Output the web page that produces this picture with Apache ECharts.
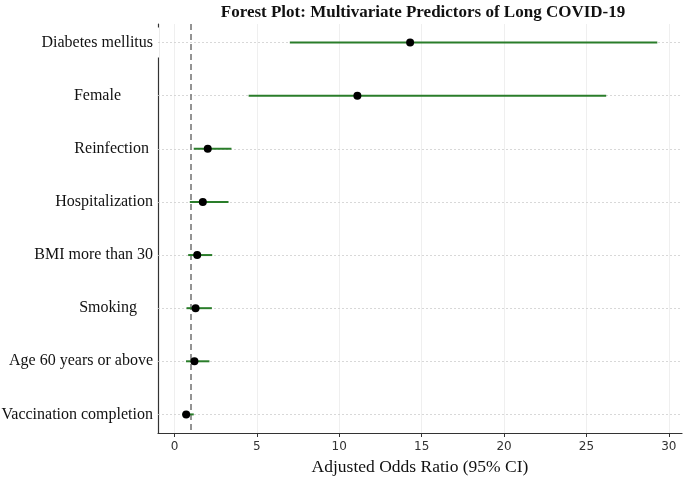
<!DOCTYPE html>
<html>
<head>
<meta charset="utf-8">
<script src="https://cdn.jsdelivr.net/npm/echarts@6/dist/echarts.min.js"></script>
<style>html,body{margin:0;padding:0;background:#fff}#c{width:685px;height:478px}</style>
</head>
<body>
<div id="c"></div>
<script>
const categories = ['Diabetes mellitus', 'Female        ', 'Reinfection ', 'Hospitalization', 'BMI more than 30', 'Smoking    ', 'Age 60 years or above', 'Vaccination completion'];
const oddsRatio = [14.3, 11.1, 2.02, 1.72, 1.38, 1.28, 1.21, 0.71];
const ciLow = [7.0, 4.5, 1.17, 0.93, 0.83, 0.73, 0.70, 0.47];
const ciHigh = [29.3, 26.2, 3.46, 3.28, 2.29, 2.27, 2.12, 1.17];
const xTicks = [0, 5, 10, 15, 20, 25, 30];
const refLine = 1;

const idx = categories.map((_, i) => i);
const chart = echarts.init(document.getElementById('c'));
const serif = 'Liberation Serif';
chart.setOption({
  animation: false,
  backgroundColor: '#fff',
  title: {
    text: 'Forest Plot: Multivariate Predictors of Long COVID-19',
    left: 418, top: -1, textAlign: 'center',
    textStyle: { fontFamily: serif, fontWeight: 'bold', fontSize: 17, color: '#111' }
  },
  grid: { left: 158, right: 3, top: 24, bottom: 45, outerBoundsMode: 'none', containLabel: false },
  xAxis: {
    type: 'value', min: -1.0, max: 30.8,
    axisLine: { show: true, onZero: false, lineStyle: { color: '#333', width: 1.2 } },
    axisTick: { show: true, length: 4, lineStyle: { color: '#333' }, customValues: xTicks },
    axisLabel: { customValues: xTicks, fontFamily: 'DejaVu Sans', fontSize: 12, color: '#333', margin: 8 },
    splitLine: { show: false },
    name: 'Adjusted Odds Ratio (95% CI)', nameLocation: 'middle', nameGap: 25,
    nameTextStyle: { fontFamily: serif, fontSize: 17.5, color: '#111' }
  },
  yAxis: {
    type: 'value', inverse: true, min: -0.35, max: 7.35,
    axisLine: { show: true, onZero: false, lineStyle: { color: '#333', width: 1.2 } },
    axisTick: { show: false, customValues: idx },
    splitLine: { show: false },
    axisLabel: {
      customValues: idx, margin: -1,
      formatter: v => (v === 0 ? '{d|' : '{n|') + categories[v] + '}',
      rich: {
        d: { fontFamily: serif, fontSize: 16, color: '#111', backgroundColor: '#fff', padding: [7, 6, 7, 0] },
        n: { fontFamily: serif, fontSize: 16, color: '#111', padding: [0, 6, 0, 0] }
      }
    }
  },
  series: [
    {
      type: 'line', data: [], silent: true,
      markLine: {
        z: 1, symbol: 'none', silent: true, label: { show: false },
        lineStyle: { color: '#ebebeb', type: 'solid', width: 0.8 },
        data: xTicks.map(v => ({ xAxis: v }))
      }
    },
    {
      type: 'line', data: [], silent: true,
      markLine: {
        z: 1, symbol: 'none', silent: true, label: { show: false },
        lineStyle: { color: '#cfcfcf', type: [2, 2], width: 0.8 },
        data: idx.map(v => ({ yAxis: v }))
      }
    },
    {
      type: 'line', data: [], silent: true,
      markLine: {
        z: 2, symbol: 'none', silent: true, label: { show: false },
        lineStyle: { color: '#7a7a7a', type: [6, 4], width: 1.6 },
        data: [{ xAxis: refLine }]
      }
    },
    {
      type: 'custom', z: 4,
      data: idx.map(i => [ciLow[i], ciHigh[i], i]),
      renderItem: (params, api) => {
        const a = api.coord([api.value(0), api.value(2)]);
        const b = api.coord([api.value(1), api.value(2)]);
        return { type: 'line', shape: { x1: a[0], y1: a[1], x2: b[0], y2: b[1] },
          style: { stroke: '#2a7d2a', lineWidth: 2 } };
      }
    },
    {
      type: 'scatter', z: 6, symbolSize: 8,
      itemStyle: { color: '#000', opacity: 1 },
      data: idx.map(i => [oddsRatio[i], i])
    }
  ]
});
</script>
</body>
</html>
